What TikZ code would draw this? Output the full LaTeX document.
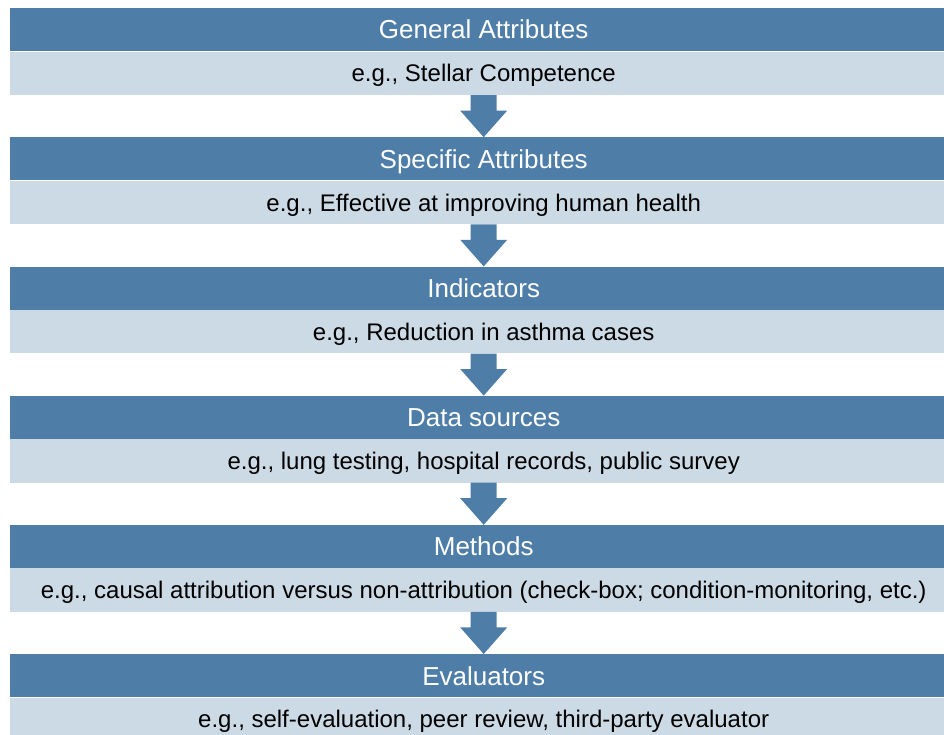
\documentclass[tikz,border=0pt]{standalone}
\usepackage{fontspec}
\setmainfont{Liberation Sans}
\usetikzlibrary{calc}
\definecolor{hdrblue}{RGB}{78,126,168}
\definecolor{lightblue}{RGB}{204,218,229}
\tikzset{
  hdrbox/.style={rectangle, fill=hdrblue, draw=none, inner sep=0pt, anchor=north west,
    minimum width=947pt, minimum height=43pt, text=white,
    font=\fontsize{26}{30}\selectfont, text height=18.6pt, text depth=0pt},
  bodybox/.style={rectangle, fill=lightblue, draw=none, inner sep=0pt, anchor=north,
    minimum width=947pt, minimum height=43.3pt, text=black,
    font=\fontsize{24}{28}\selectfont, text height=17.2pt, text depth=0pt},
  downarrow/.style={fill=hdrblue, draw=none}
}
\newcommand{\flowarrow}[2]{%
  \path[downarrow] ($(#1.south)+(-13,0)$) -- ($(#1.south)+(13,0)$) -- ($(#1.south)+(13,15.5)$)
    -- ($(#1.south)+(23.5,15.5)$) -- (#2.north) -- ($(#1.south)+(-23.5,15.5)$)
    -- ($(#1.south)+(-13,15.5)$) -- cycle;}
\begin{document}
\begin{tikzpicture}[x=1pt,y=-1pt]
\useasboundingbox (0,0) rectangle (944,735);
\clip (0,0) rectangle (944,735);
\node[hdrbox] (h1) at (10,8) {General Attributes};
\node[bodybox] (b1) at (h1.south) {e.g., Stellar Competence};
\node[hdrbox] (h2) at (10,137.2) {Specific Attributes};
\node[bodybox] (b2) at (h2.south) {e.g., Effective at improving human health};
\node[hdrbox] (h3) at (10,266.4) {Indicators};
\node[bodybox] (b3) at (h3.south) {e.g., Reduction in asthma cases};
\node[hdrbox] (h4) at (10,395.6) {Data sources};
\node[bodybox] (b4) at (h4.south) {e.g., lung testing, hospital records, public survey};
\node[hdrbox] (h5) at (10,524.8) {Methods};
\node[bodybox] (b5) at (h5.south) {e.g., causal attribution versus non-attribution (check-box; condition-monitoring, etc.)};
\node[hdrbox] (h6) at (10,654) {Evaluators};
\node[bodybox] (b6) at (h6.south) {e.g., self-evaluation, peer review, third-party evaluator};
\flowarrow{b1}{h2}
\flowarrow{b2}{h3}
\flowarrow{b3}{h4}
\flowarrow{b4}{h5}
\flowarrow{b5}{h6}
\end{tikzpicture}
\end{document}
